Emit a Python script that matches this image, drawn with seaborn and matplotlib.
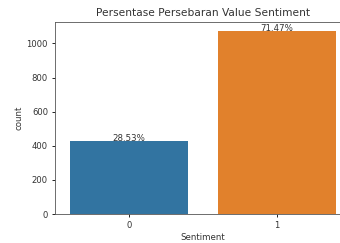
import matplotlib
matplotlib.use("Agg")
import matplotlib.pyplot as plt
import seaborn as sns
import pandas as pd

sentiment = ['0', '1']
counts = [428, 1072]
colors = ['#3274a1', '#e1812c']

df = pd.DataFrame({'Sentiment': sentiment, 'count': counts})
total = sum(counts)

fig = plt.figure(figsize=(3.4, 2.43), dpi=100)
ax = fig.add_axes([55 / 340, 29 / 243, 296 / 340, 192 / 243])
sns.barplot(data=df, x='Sentiment', y='count', hue='Sentiment',
            palette=colors, legend=False, ax=ax, saturation=1)
ax.set_xlim(-0.5, 1.5)

for p in ax.patches:
    h = p.get_height()
    if h == 0:
        continue
    pct = '{:.2f}%'.format(100 * h / total)
    ax.annotate(pct, (p.get_x() + p.get_width() / 2, h), ha='center',
                fontsize=6.2, color='#333333')

ax.set_title('Persentase Persebaran Value Sentiment', fontsize=7.7,
             color='#333333', pad=4)
ax.set_xlabel('Sentiment', fontsize=6.2, color='#333333', labelpad=2.5)
ax.set_ylabel('count', fontsize=6.2, color='#333333', labelpad=2.5)
ax.tick_params(labelsize=6.1, labelcolor='#333333', length=2.5, width=0.6,
               pad=2.5)
for s in ax.spines.values():
    s.set_linewidth(0.6)
    s.set_color('#555555')

fig.savefig('out.png', dpi=100)
